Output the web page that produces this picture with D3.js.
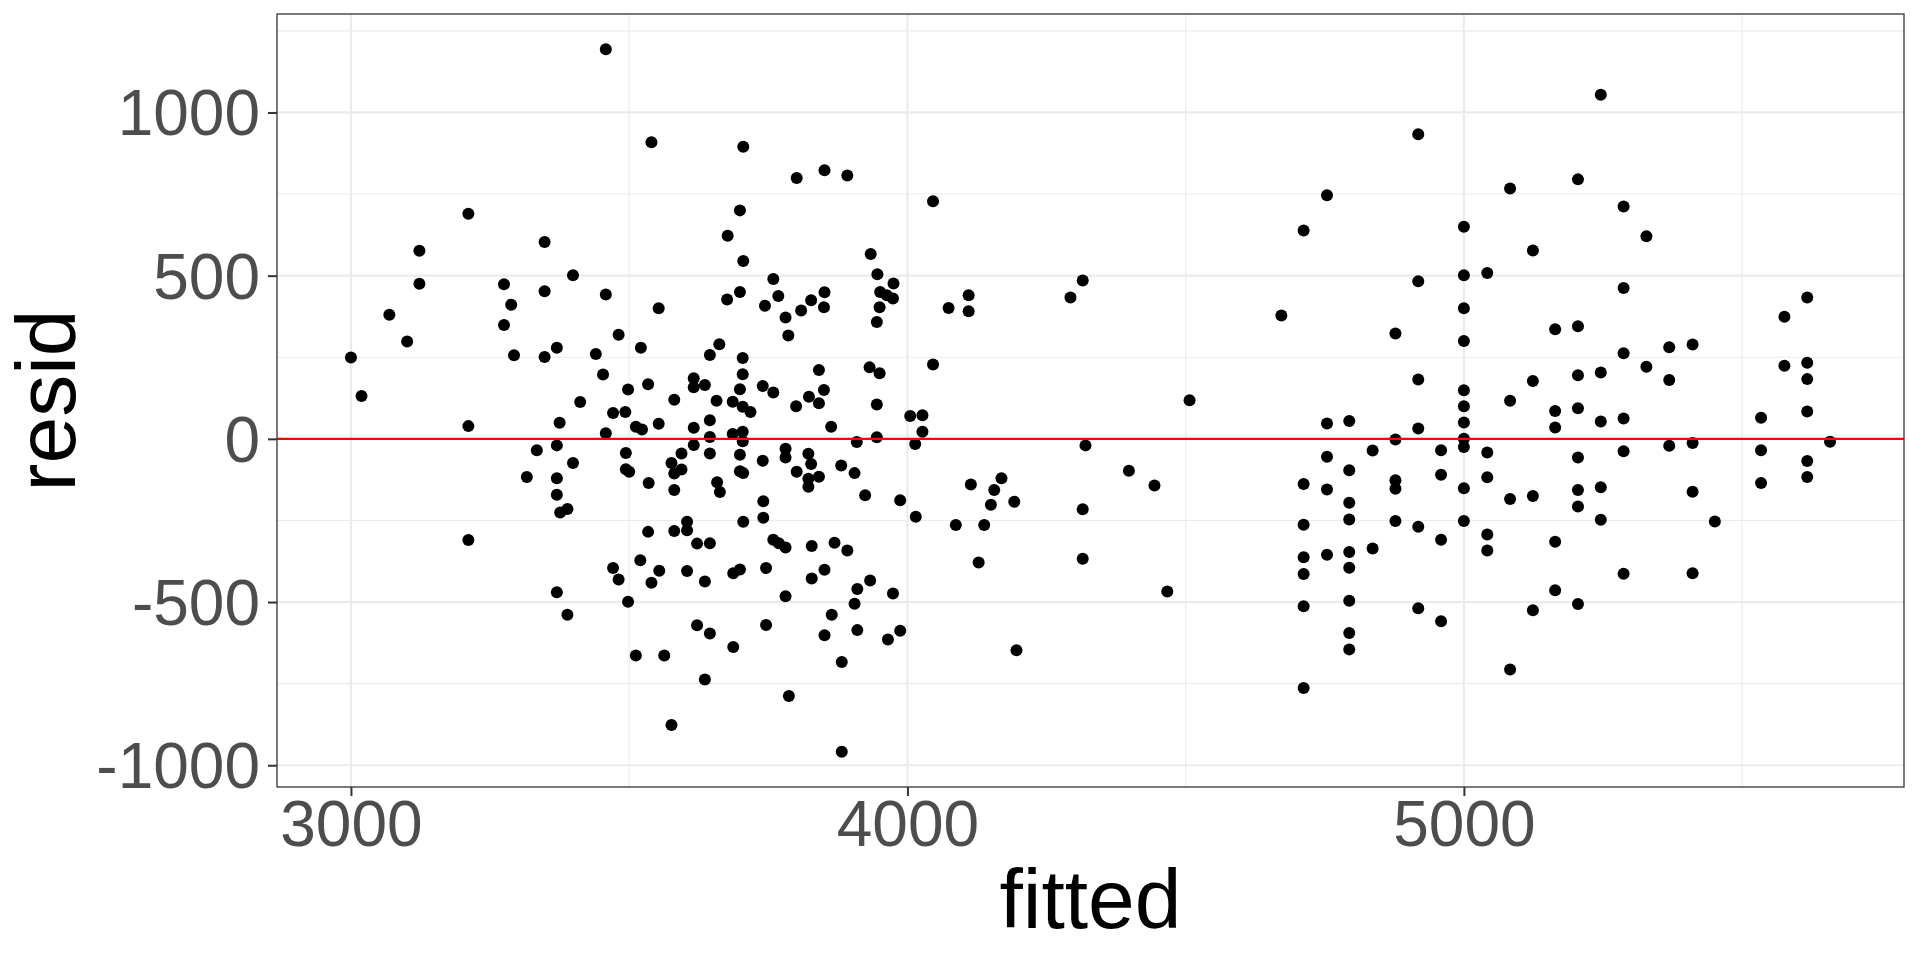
<!DOCTYPE html>
<html><head><meta charset="utf-8">
<script src="https://cdn.jsdelivr.net/npm/d3@7"></script>
<style>body{margin:0;background:#fff}svg{display:block}</style>
</head><body><svg id="c" width="1920" height="960"></svg>
<script>
const fitted = [
3458,3211,3123,3348,3399,3123,3275,3348,3458,3288,
3069,3275,3481,3101,3521,3370,3000,3293,3348,3440,
3453,3498,3019,3412,3471,3493,3211,3375,3458,3512,
3540,3705,3801,3851,3892,3699,3677,3705,3934,3759,
3946,3975,3699,3851,3951,
3676,3768,3963,3974,3553,3744,3827,3809,3850,3781,
3950,3945,3786,3662,3645,3704,3841,3932,3950,3704,
3534,3616,3616,3636,3699,3740,3759,3850,3581,3657,
3686,3704,3718,3800,3823,3841,3945,3523,3553,3616,
3645,3645,3686,3704,3704,3863,3909,3945,3616,3494,
3594,3645,3699,3781,3781,3822,3740,3576,3827,3881,
3370,3334,3399,3316,3370,3494,3500,3370,3389,3376,
3211,3471,3481,3370,3498,3389,
3594,3581,3699,3705,3535,3581,3658,3663,3741,3741,
3801,3822,3822,3841,3905,3924,3987,4015,3534,3581,
3604,3604,3622,3645,3705,3759,3769,3781,3828,3869,
3892,3520,3554,3540,3604,3636,3687,3699,3746,3828,
3851,3910,3933,3781,3974,3905,3864,3622,3645,3746,
3851,3910,3965,3987,3687,3512,3563,3882,3636,3787,
3576,3882,
4046,4110,4074,4110,4293,4315,4046,4005,4027,4027,
4014,4507,4672,4320,4398,4444,4114,4169,4156,4150,
4192,4087,4138,4315,4128,4315,4467,4196,
4918,4754,5083,4712,5000,5124,5000,5042,4918,5000,
4877,5164,5000,4918,5124,5083,5164,5164,5000,5000,
5000,5000,4754,4794,4918,4877,
5000,4959,5042,4836,4754,4794,4712,4754,4877,4877,
4959,5042,5000,5083,5124,4794,4712,4794,4877,4918,
5000,4959,5042,5042,5164,4712,4754,4794,4836,4712,
4794,5164,4712,4794,4918,4959,5124,4794,4794,5083,
4712,
5246,5205,5287,5328,5287,5205,5287,5369,5411,5328,
5205,5246,5369,5205,5246,5287,5576,5617,5576,5617,
5617,5534,5617,5658,
5287,5369,5411,5534,5205,5617,5617,5534,5205,5205,
5246,5411,5246,5451,5287,5411,5205
];
const resid = [
1194,690,576,603,501,475,474,452,442,411,
380,349,319,298,279,279,249,256,251,260,
197,151,131,113,79,82,39,49,17,37,
909,895,799,823,807,700,622,545,566,490,
504,476,450,449,450,
427,438,440,430,400,408,425,393,403,372,
403,358,317,290,257,248,211,219,201,198,
167,186,158,165,152,162,142,150,120,117,
114,98,82,100,129,109,105,29,46,34,
57,6,15,22,-7,37,-10,5,-19,-43,
-45,-45,-49,-30,-57,-46,-67,-74,-77,-82,
-20,-35,-74,-117,-121,-93,-101,-171,-215,-226,
-310,-396,-431,-470,-499,-539,
-94,-106,-99,-105,-135,-157,-133,-163,-191,-242,
-101,-122,-147,-116,-105,-173,-188,-239,-285,-282,
-254,-280,-321,-320,-254,-309,-320,-333,-328,-318,
-342,-372,-404,-441,-405,-437,-412,-400,-396,-428,
-401,-460,-434,-482,-474,-505,-539,-571,-596,-570,
-602,-586,-615,-588,-638,-664,-664,-684,-737,-788,
-877,-959,
728,440,401,391,433,485,228,70,72,22,
-16,118,378,-20,-98,-143,-140,-121,-157,-202,
-193,-264,-264,-216,-379,-367,-468,-648,
933,746,767,638,650,577,501,508,483,400,
323,336,300,182,177,117,85,35,149,100,
50,0,47,55,32,-2,
-25,-35,-42,-36,-55,-96,-138,-155,-127,-153,
-110,-118,-151,-184,-175,-196,-263,-247,-252,-269,
-252,-309,-293,-342,-315,-363,-355,-347,-336,-414,
-395,-464,-513,-496,-519,-559,-525,-595,-645,-707,
-763,
1054,795,712,621,462,345,262,281,289,221,
195,203,180,94,53,62,374,433,224,233,
183,65,84,-9,
-38,-21,-13,-35,-57,-68,-117,-135,-157,-207,
-148,-162,-248,-253,-413,-412,-506
];
const xTicks = [3000, 4000, 5000];
const yTicks = [-1000, -500, 0, 500, 1000];
const xMinor = [3500, 4500, 5500];
const yMinor = [-750, -250, 250, 750, 1250];
const refLine = [0];
const xTitle = "fitted";
const yTitle = "resid";

const svg = d3.select("#c");
const L = 277, R = 1904, T = 14, B = 787;
const font = "'Liberation Sans', Arial, Helvetica, sans-serif";

function expand(ext) { const d = (ext[1] - ext[0]) * 0.05; return [ext[0] - d, ext[1] + d]; }
const x = d3.scaleLinear().domain(expand(d3.extent(fitted))).range([L, R]);
const y = d3.scaleLinear().domain(expand(d3.extent(resid))).range([B, T]);

const g = svg.append("g");
// minor grid
g.selectAll("line.xm").data(xMinor).join("line")
  .attr("x1", d => x(d)).attr("x2", d => x(d)).attr("y1", T).attr("y2", B)
  .attr("stroke", "#EBEBEB").attr("stroke-width", 1.1);
g.selectAll("line.ym").data(yMinor).join("line")
  .attr("y1", d => y(d)).attr("y2", d => y(d)).attr("x1", L).attr("x2", R)
  .attr("stroke", "#EBEBEB").attr("stroke-width", 1.1);
// major grid
g.selectAll("line.xM").data(xTicks).join("line")
  .attr("x1", d => x(d)).attr("x2", d => x(d)).attr("y1", T).attr("y2", B)
  .attr("stroke", "#EBEBEB").attr("stroke-width", 2.2);
g.selectAll("line.yM").data(yTicks).join("line")
  .attr("y1", d => y(d)).attr("y2", d => y(d)).attr("x1", L).attr("x2", R)
  .attr("stroke", "#EBEBEB").attr("stroke-width", 2.2);

// points
const pts = fitted.map((f, i) => ({f, r: resid[i]}));
svg.append("g").selectAll("circle").data(pts).join("circle")
  .attr("cx", d => x(d.f)).attr("cy", d => y(d.r)).attr("r", 6).attr("fill", "#000");

// reference line
svg.append("g").selectAll("line").data(refLine).join("line")
  .attr("x1", L).attr("x2", R).attr("y1", d => y(d)).attr("y2", d => y(d))
  .attr("stroke", "#FF0000").attr("stroke-width", 2.2);

// panel border
svg.append("rect").attr("x", L).attr("y", T).attr("width", R - L).attr("height", B - T)
  .attr("fill", "none").attr("stroke", "#333333").attr("stroke-width", 1.3);

// axes
const xa = svg.append("g").attr("transform", `translate(0,${B})`)
  .call(d3.axisBottom(x).tickValues(xTicks).tickSize(9).tickPadding(5).tickFormat(d3.format("d")));
const ya = svg.append("g").attr("transform", `translate(${L},0)`)
  .call(d3.axisLeft(y).tickValues(yTicks).tickSize(9).tickPadding(8).tickFormat(d => String(d)));
[xa, ya].forEach(a => {
  a.select(".domain").remove();
  a.selectAll(".tick line").attr("stroke", "#333333").attr("stroke-width", 2);
  a.selectAll(".tick text").attr("fill", "#4D4D4D").style("font-family", font).style("font-size", "64px");
});
ya.selectAll(".tick text").attr("dy", "0.35em");

// titles
svg.append("text").attr("x", (L + R) / 2).attr("y", 928).attr("text-anchor", "middle")
  .style("font-family", font).style("font-size", "84px").attr("fill", "#000").text(xTitle);
svg.append("text").attr("transform", `translate(75,${(T + B) / 2}) rotate(-90)`).attr("text-anchor", "middle")
  .style("font-family", font).style("font-size", "84px").attr("fill", "#000").text(yTitle);
</script>
</body></html>
